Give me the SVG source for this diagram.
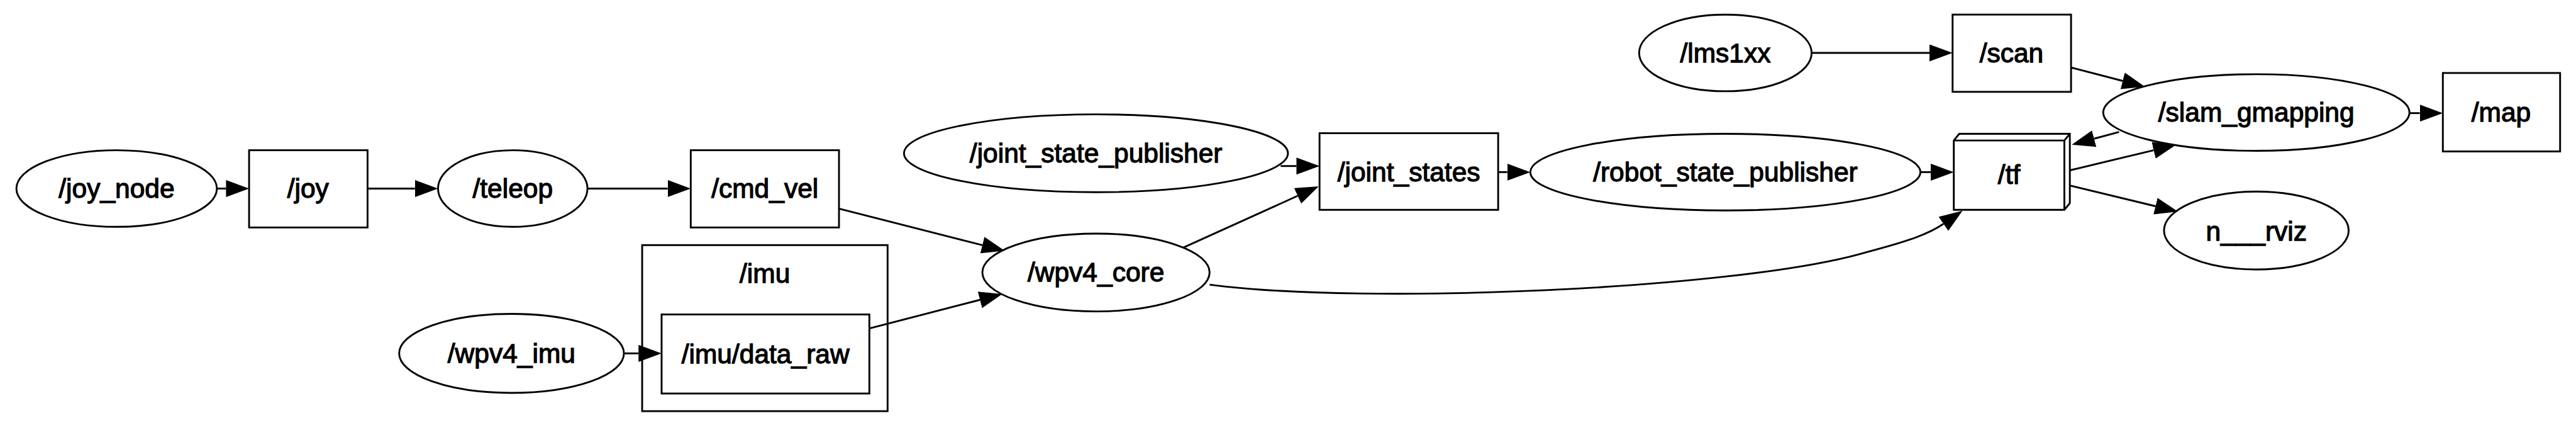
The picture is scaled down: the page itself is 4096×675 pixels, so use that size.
<svg xmlns="http://www.w3.org/2000/svg" width="4096" height="675" viewBox="0 0 4096 675">
<style>
.n{fill:none;stroke:#000;stroke-width:3}
.t{font-family:"Liberation Sans",Arial,sans-serif;font-size:44px;fill:#000;stroke:#000;stroke-width:1.3;text-anchor:middle}
.e{fill:none;stroke:#000;stroke-width:3}
</style>
<defs>
<marker id="arr" markerUnits="userSpaceOnUse" markerWidth="40" markerHeight="28" viewBox="0 0 40 28" refX="0" refY="14" orient="auto"><path d="M0,0 L38,14 L0,28 Z" fill="#000"/></marker>
</defs>
<rect width="4096" height="675" fill="#fff"/>
<g transform="scale(0.966)">
<g id="cluster_imu"><rect class="n" x="1057" y="403" width="404" height="273"/><text class="t" x="1259" y="465">/imu</text></g>
<g id="joy_node"><ellipse class="n" cx="192" cy="310" rx="165" ry="63"/><text class="t" x="192" y="325">/joy_node</text></g>
<g id="joy"><rect class="n" x="410" y="247" width="195" height="127"/><text class="t" x="507" y="325">/joy</text></g>
<g id="teleop"><ellipse class="n" cx="844" cy="310" rx="123" ry="63"/><text class="t" x="844" y="325">/teleop</text></g>
<g id="cmd_vel"><rect class="n" x="1137" y="247" width="244" height="127"/><text class="t" x="1259" y="325">/cmd_vel</text></g>
<g id="imu_data_raw"><rect class="n" x="1089" y="517" width="342" height="130"/><text class="t" x="1260" y="597">/imu/data_raw</text></g>
<g id="wpv4_imu"><ellipse class="n" cx="842" cy="581" rx="185" ry="65"/><text class="t" x="842" y="596">/wpv4_imu</text></g>
<g id="wpv4_core"><ellipse class="n" cx="1804" cy="448" rx="187" ry="64"/><text class="t" x="1804" y="463">/wpv4_core</text></g>
<g id="joint_state_publisher"><ellipse class="n" cx="1804" cy="252" rx="316" ry="64"/><text class="t" x="1804" y="267">/joint_state_publisher</text></g>
<g id="joint_states"><rect class="n" x="2172" y="219" width="294" height="126"/><text class="t" x="2319" y="298">/joint_states</text></g>
<g id="robot_state_publisher"><ellipse class="n" cx="2840" cy="283" rx="321" ry="63"/><text class="t" x="2840" y="298">/robot_state_publisher</text></g>
<g id="tf"><path class="n" d="M3216,231 L3225,220 L3407,220 L3407,334 L3398,345 L3216,345 Z M3216,231 L3398,231 L3398,345 M3398,231 L3407,220"/><text class="t" x="3307" y="302">/tf</text></g>
<g id="lms1xx"><ellipse class="n" cx="2840" cy="87" rx="142" ry="63"/><text class="t" x="2840" y="102">/lms1xx</text></g>
<g id="scan"><rect class="n" x="3214" y="24" width="195" height="127"/><text class="t" x="3311" y="102">/scan</text></g>
<g id="slam_gmapping"><ellipse class="n" cx="3714" cy="185" rx="252" ry="63"/><text class="t" x="3714" y="200">/slam_gmapping</text></g>
<g id="map"><rect class="n" x="4021" y="120" width="193" height="129"/><text class="t" x="4117" y="200">/map</text></g>
<g id="n___rviz"><ellipse class="n" cx="3714" cy="379" rx="152" ry="64"/><text class="t" x="3714" y="395">n___rviz</text></g>
<g id="connectors">
<path class="e" marker-end="url(#arr)" d="M357,310 L372,310"/>
<path class="e" marker-end="url(#arr)" d="M605,310 L683,310"/>
<path class="e" marker-end="url(#arr)" d="M967,310 L1099,310"/>
<path class="e" marker-end="url(#arr)" d="M1381,343 L1617,403"/>
<path class="e" marker-end="url(#arr)" d="M1027,581 L1051,581"/>
<path class="e" marker-end="url(#arr)" d="M1431,540 L1613,493"/>
<path class="e" marker-end="url(#arr)" d="M1948,407 L2136,322"/>
<path class="e" marker-end="url(#arr)" d="M2108,273 L2134,273"/>
<path class="e" marker-end="url(#arr)" d="M2466,283 L2481,283"/>
<path class="e" marker-end="url(#arr)" d="M3161,283 L3178,283"/>
<path class="e" marker-end="url(#arr)" d="M2983,87 L3176,87"/>
<path class="e" marker-end="url(#arr)" d="M3409,111 L3494,133"/>
<path class="e" marker-end="url(#arr)" d="M3966,186 L3983,186"/>
<path class="e" marker-end="url(#arr)" d="M3488,217 L3447,228"/>
<path class="e" marker-end="url(#arr)" d="M3407,280 L3545,247"/>
<path class="e" marker-end="url(#arr)" d="M3407,305 L3548,339"/>
<path class="e" marker-end="url(#arr)" d="M1991,468 C2250,502 2850,475 3060,418 C3125,401 3170,388 3199,368"/>
</g>
</g>
</svg>
